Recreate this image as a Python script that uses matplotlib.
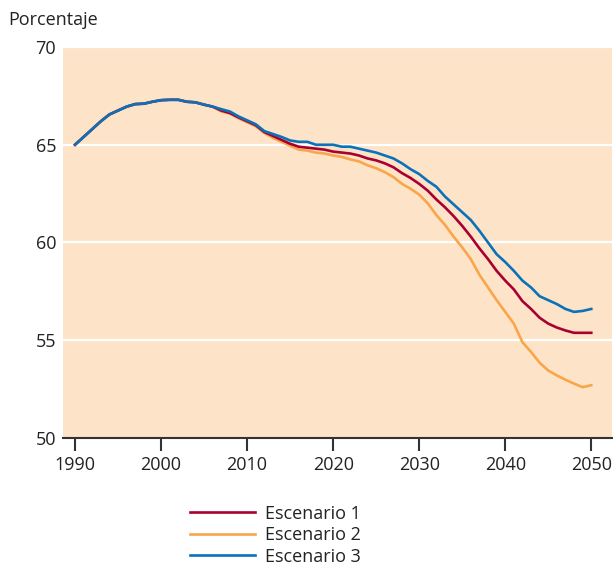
import matplotlib.pyplot as plt
import numpy as np

plt.rcParams["font.family"] = ["Open Sans", "DejaVu Sans"]

years = list(range(1990, 2051))

# common part 1990-2006
common = [65.0, 65.4, 65.8, 66.2, 66.55, 66.75, 66.95, 67.08, 67.1, 67.2,
          67.28, 67.3, 67.3, 67.2, 67.17, 67.05, 66.95]

esc3 = common + [66.82, 66.7, 66.45, 66.25, 66.05, 65.7, 65.55, 65.4, 65.22, 65.15,
                 65.15, 65.0, 65.0, 65.0, 64.9, 64.9, 64.8, 64.7, 64.6, 64.45,
                 64.3, 64.05, 63.75, 63.5, 63.15, 62.85, 62.35, 61.95, 61.55, 61.15,
                 60.6, 60.0, 59.4, 59.0, 58.55, 58.05, 57.7, 57.25, 57.05, 56.85,
                 56.6, 56.45, 56.5, 56.6]

esc1 = common + [66.75, 66.62, 66.4, 66.2, 66.0, 65.65, 65.45, 65.25, 65.05, 64.9,
                 64.85, 64.8, 64.75, 64.65, 64.6, 64.55, 64.45, 64.3, 64.2, 64.05,
                 63.85, 63.55, 63.3, 63.0, 62.65, 62.2, 61.8, 61.35, 60.85, 60.3,
                 59.7, 59.15, 58.55, 58.05, 57.6, 57.0, 56.6, 56.15, 55.85, 55.65,
                 55.5, 55.38, 55.38, 55.38]

esc2 = common + [66.7, 66.6, 66.35, 66.15, 65.95, 65.6, 65.35, 65.15, 64.95, 64.75,
                 64.7, 64.6, 64.55, 64.45, 64.38, 64.25, 64.15, 63.95, 63.8, 63.6,
                 63.35, 63.0, 62.75, 62.45, 62.0, 61.4, 60.9, 60.3, 59.75, 59.15,
                 58.35, 57.7, 57.05, 56.45, 55.85, 54.9, 54.4, 53.85, 53.45, 53.2,
                 52.98, 52.78, 52.6, 52.7]

labels = ["Escenario 1", "Escenario 2", "Escenario 3"]
colors = ["#a8002f", "#f9a64a", "#0a72ba"]

fig = plt.figure(figsize=(6.15, 5.65), dpi=100)
ax = fig.add_axes([0.1024, 0.2248, 0.8926, 0.692])
ax.set_facecolor("#fde4c9")

for v in [55, 60, 65, 70]:
    ax.axhline(v, color="white", lw=1.6, zorder=1)

h2, = ax.plot(years, esc2, color=colors[1], lw=1.9, zorder=3)
h1, = ax.plot(years, esc1, color=colors[0], lw=1.9, zorder=4)
h3, = ax.plot(years, esc3, color=colors[2], lw=1.9, zorder=5)

ax.set_xlim(1988.6, 2052.4)
ax.set_ylim(50, 70)
ax.set_xticks(range(1990, 2051, 10))
ax.set_yticks([50, 55, 60, 65, 70])

for s in ["top", "right", "left"]:
    ax.spines[s].set_visible(False)
ax.spines["bottom"].set_color("#333333")
ax.spines["bottom"].set_linewidth(1.5)
ax.tick_params(axis="x", length=9, width=1.5, color="#333333", labelsize=13,
               labelcolor="#222222", pad=4)
ax.tick_params(axis="y", length=0, labelsize=13, labelcolor="#222222", pad=5)

fig.text(0.013, 0.965, "Porcentaje", fontsize=13, color="#222222", va="center")

leg = fig.legend([h1, h2, h3], labels, loc="upper left",
                 bbox_to_anchor=(0.309, 0.107), frameon=False, fontsize=13,
                 handlelength=3.6, handletextpad=0.55, labelspacing=0.2,
                 borderaxespad=0, borderpad=0)
for t in leg.get_texts():
    t.set_color("#222222")

fig.savefig("out.png", dpi=100)
